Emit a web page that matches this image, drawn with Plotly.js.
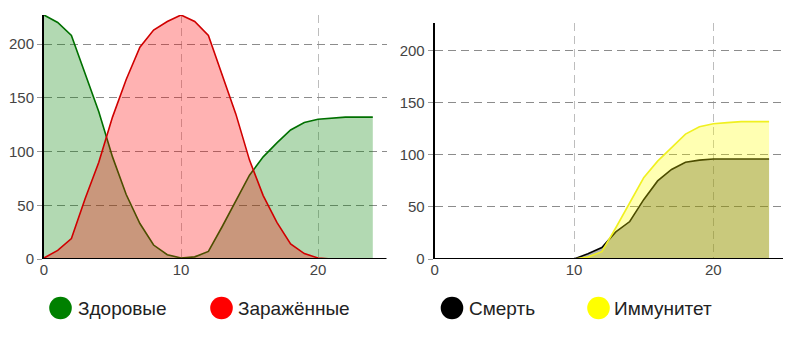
<!DOCTYPE html>
<html>
<head>
<meta charset="utf-8">
<script src="https://cdn.plot.ly/plotly-3.0.1.min.js"></script>
<style>
  html, body { margin: 0; padding: 0; background: #fff; }
  #chart { width: 800px; height: 341px; }
</style>
</head>
<body>
<div id="chart"></div>
<script>
// ---- data ----
const days = [0,1,2,3,4,5,6,7,8,9,10,11,12,13,14,15,16,17,18,19,20,21,22,23,24];
const healthy  = [227,220,208,172,137,95,60,33,13,4,1,2,7,30,54,78,95,108,120,127,130,131,132,132,132];
const infected = [1,8,19,56,90,132,167,197,213,221,227,221,208,171,135,92,59,34,14,5,1,0,0,0,0];
const deaths   = [0,0,0,0,0,0,0,0,0,0,0,5,11,26,36,57,75,86,93,95,96,96,96,96,96];
const immune   = [0,0,0,0,0,0,0,0,0,0,0,2,7,30,54,78,94,107,120,127,130,131,132,132,132];

const seriesNames = ['Здоровые', 'Заражённые', 'Смерть', 'Иммунитет'];
const yTicks = [0, 50, 100, 150, 200];
const xTicks = [0, 10, 20];

// ---- styles ----
const lineColors = ['#007000', '#d00000', '#000000', '#f0f020'];
const fillColors = ['rgba(0,128,0,0.3)', 'rgba(255,0,0,0.3)', 'rgba(0,0,0,0.3)', 'rgba(255,255,0,0.3)'];
const dotColors  = ['#008000', '#ff0000', '#000000', '#ffff00'];

function tr(y, i, xa, ya) {
  return {
    x: days, y: y, type: 'scatter', mode: 'lines', fill: 'tozeroy',
    name: seriesNames[i], line: {color: lineColors[i], width: 1.6},
    fillcolor: fillColors[i], xaxis: xa, yaxis: ya, showlegend: false,
    hoverinfo: 'skip'
  };
}

const data = [
  tr(healthy, 0, 'x', 'y'),
  tr(infected, 1, 'x', 'y'),
  tr(deaths, 2, 'x2', 'y2'),
  tr(immune, 3, 'x2', 'y2')
];

const W = 800, H = 341;
const font = {family: 'Liberation Sans, Arial, sans-serif', size: 15, color: '#444'};

function xAxis(domain) {
  return {
    domain: domain, range: [0, 25], tickvals: xTicks, ticktext: xTicks.map(String),
    showline: false, zeroline: false,
    showgrid: true, gridcolor: '#bdbdbd', gridwidth: 1, griddash: '8px,5px',
    ticks: '', tickfont: font, fixedrange: true
  };
}
function yAxis(domain, anchor) {
  return {
    domain: domain, range: [0, 227], tickvals: yTicks, ticktext: yTicks.map(String),
    showline: true, linecolor: '#000', linewidth: 2, zeroline: false,
    showgrid: true, gridcolor: '#8c8c8c', gridwidth: 1, griddash: '8px,5px',
    ticks: 'outside', ticklen: 5, tickcolor: '#999', tickwidth: 1,
    tickfont: font, anchor: anchor, fixedrange: true
  };
}

const shapes = [], annotations = [];
// bottom axis lines drawn above the traces
[['x', 'y'], ['x2', 'y2']].forEach(([xa, ya]) => {
  shapes.push({
    type: 'line', layer: 'above', xref: xa + ' domain', yref: ya,
    x0: -0.003, x1: 1, y0: 0, y1: 0, line: {color: '#000', width: 2.2}
  });
});

// legend built from names (dots + labels)
const legendDotX = [60.5, 221.5, 452, 598.5];
const legendTextX = [76, 235.5, 466.5, 611.5];
const legendY = 308;
const r = 11.3;
seriesNames.forEach((n, i) => {
  shapes.push({
    type: 'circle', xref: 'paper', yref: 'paper',
    x0: (legendDotX[i] - r) / W, x1: (legendDotX[i] + r) / W,
    y0: (H - legendY - r) / H, y1: (H - legendY + r) / H,
    fillcolor: dotColors[i], line: {width: 0}
  });
  annotations.push({
    text: n, xref: 'paper', yref: 'paper', x: legendTextX[i] / W, y: (H - legendY) / H,
    xanchor: 'left', yanchor: 'middle', showarrow: false,
    font: {family: 'Liberation Sans, Arial, sans-serif', size: 19, color: '#222'}
  });
});

const layout = {
  width: W, height: H, margin: {l: 0, r: 0, t: 0, b: 0},
  paper_bgcolor: '#fff', plot_bgcolor: 'rgba(0,0,0,0)',
  showlegend: false,
  xaxis: Object.assign(xAxis([44 / W, 386.5 / W]), {anchor: 'y'}),
  yaxis: yAxis([82 / H, 326 / H], 'x'),
  xaxis2: Object.assign(xAxis([434.7 / W, 783 / W]), {anchor: 'y2'}),
  yaxis2: yAxis([82 / H, 318.3 / H], 'x2'),
  shapes: shapes, annotations: annotations
};

Plotly.newPlot('chart', data, layout, {displayModeBar: false, staticPlot: true});
</script>
</body>
</html>
